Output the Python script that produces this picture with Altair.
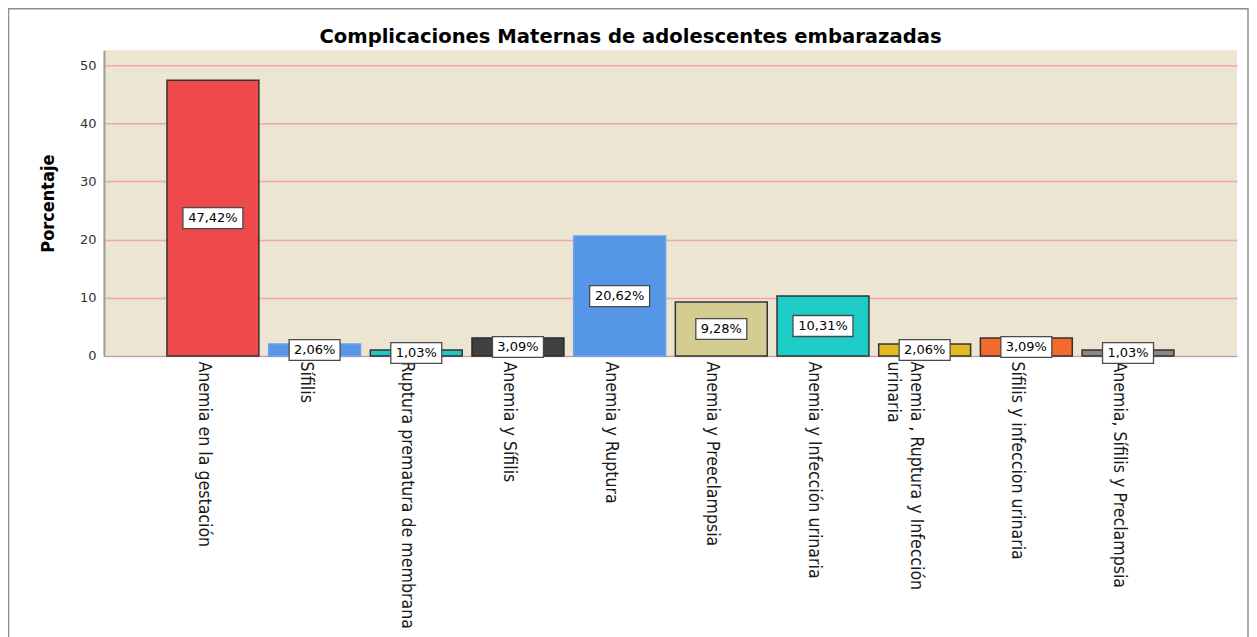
import altair as alt
import pandas as pd

title_text = "Complicaciones Maternas de adolescentes embarazadas"
categories = [
    "Anemia en la gestación",
    "Sífilis",
    "Ruptura prematura de membrana",
    "Anemia  y Sífilis",
    "Anemia y Ruptura",
    "Anemia  y Preeclampsia",
    "Anemia  y Infección urinaria",
    "Anemia , Ruptura  y Infección\nurinaria",
    "Sífilis y infeccion urinaria",
    "Anemia, Sífilis y Preclampsia",
]
percentages = [47.42, 2.06, 1.03, 3.09, 20.62, 9.28, 10.31, 2.06, 3.09, 1.03]
y_ticks = [0, 10, 20, 30, 40, 50]

fill_colors = ["#EE4A4C", "#5597E6", "#1FC8C4", "#404040", "#5597E6",
               "#D4CD92", "#1ECCC8", "#E0BA20", "#F26A2C", "#878787"]
stroke_colors = ["#333333", "#6AA3EA", "#333333", "#2a2a2a", "#6AA3EA",
                 "#333333", "#333333", "#333333", "#333333", "#333333"]

df = pd.DataFrame({"cat": categories, "pct": percentages})

LABEL_FONT = "Liberation Sans Narrow, DejaVu Sans Condensed, Liberation Sans, Arial"

x_axis = alt.Axis(
    title=None,
    labelAngle=90,
    labelAlign="left",
    labelBaseline="top",
    labelOffset=0,
    labelPadding=5,
    labelFont=LABEL_FONT,
    labelFontSize=17.6,
    labelLineHeight=23,
    labelColor="#1a1a1a",
    labelLimit=500,
    labelExpr="split(datum.label, '\\n')",
    ticks=False,
    domain=True,
    domainColor="#B9A9A9",
    domainWidth=1,
)
x_scale = alt.Scale(paddingInner=0.096, paddingOuter=0.62)

y_axis = alt.Axis(
    values=y_ticks,
    title="Porcentaje",
    titleFont=LABEL_FONT,
    titleFontSize=18,
    titleFontWeight="bold",
    titleColor="#000000",
    titlePadding=22,
    labelFont="DejaVu Sans",
    labelFontSize=13,
    labelColor="#333333",
    labelPadding=8,
    ticks=False,
    tickSize=0,
    grid=True,
    gridColor="#F3A5B8",
    gridWidth=1.5,
    domainColor="#9C9C9C",
    domainWidth=2,
)
y_scale = alt.Scale(domain=[0, 52.6], nice=False, zero=True)


def xe():
    return alt.X("cat:N", sort=categories, scale=x_scale, axis=x_axis)


def ye(field):
    return alt.Y(field, scale=y_scale, axis=y_axis)


base = alt.Chart(df)

bars = base.mark_bar(strokeWidth=1.5).encode(
    x=xe(),
    y=ye("pct:Q"),
    fill=alt.Fill("cat:N", sort=categories,
                  scale=alt.Scale(domain=categories, range=fill_colors), legend=None),
    stroke=alt.Stroke("cat:N", sort=categories,
                      scale=alt.Scale(domain=categories, range=stroke_colors), legend=None),
)

lab_base = base.transform_calculate(
    mid="datum.pct / 2",
    lab="replace(format(datum.pct, '.2f'), '.', ',') + '%'",
)

box_short = lab_base.transform_filter("length(datum.lab) <= 5").mark_point(
    shape="M-1,-0.41H1V0.41H-1Z", size=2601, filled=True, fill="white",
    stroke="#4A4A4A", strokeWidth=1.3, opacity=1,
).encode(x=xe(), y=ye("mid:Q"))

box_long = lab_base.transform_filter("length(datum.lab) > 5").mark_point(
    shape="M-1,-0.35H1V0.35H-1Z", size=3600, filled=True, fill="white",
    stroke="#4A4A4A", strokeWidth=1.3, opacity=1,
).encode(x=xe(), y=ye("mid:Q"))

texts = lab_base.mark_text(font="DejaVu Sans", fontSize=13, color="#000000").encode(
    x=xe(),
    y=ye("mid:Q"),
    text="lab:N",
)

title_mark = alt.Chart(pd.DataFrame({"t": [title_text]})).mark_text(
    font="DejaVu Sans", fontSize=19.6, fontWeight="bold", color="#000000",
    align="center", baseline="alphabetic",
).encode(text="t:N", x=alt.value(527), y=alt.value(-7))

frame = alt.Chart(pd.DataFrame({"k": [0]})).mark_rect(
    filled=False, stroke="#8E8E8E", strokeWidth=1.5, clip=False
).encode(
    x=alt.value(-95.5), x2=alt.value(1145), y=alt.value(-41.5), y2=alt.value(640)
)

chart = alt.layer(bars, box_short, box_long, texts, title_mark, frame).properties(
    width=1134,
    height=306,
    autosize=alt.AutoSizeParams(type="none"),
    padding={"left": 96, "top": 42, "right": 12, "bottom": 281},
    background="white",
).configure_view(fill="#EBE5D1", stroke=None)

chart.save("out.html", embed_options={"renderer": "svg", "actions": False})
